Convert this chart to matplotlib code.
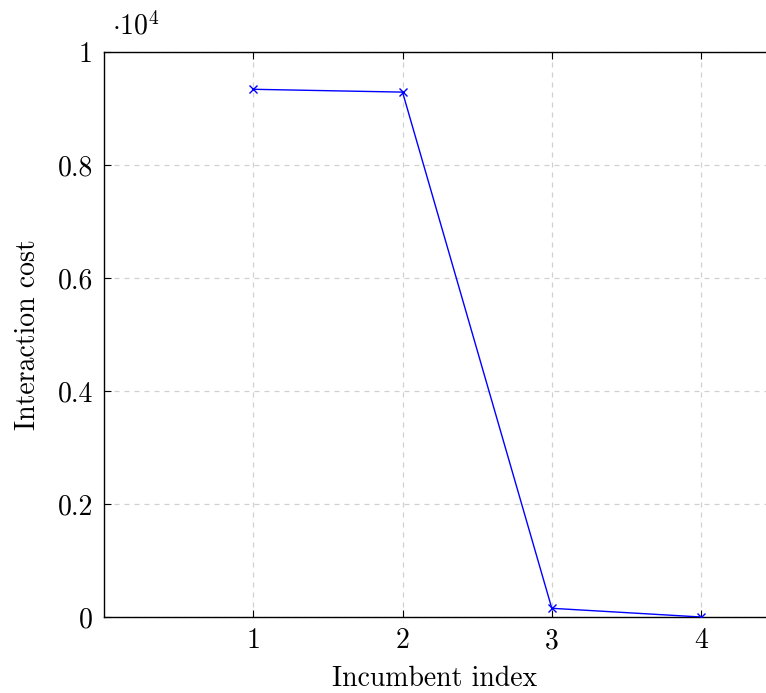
import matplotlib
matplotlib.use("Agg")
import matplotlib.pyplot as plt
from matplotlib.ticker import FuncFormatter, FixedLocator

incumbent = [1, 2, 3, 4]
cost = [9340, 9290, 154, 0]
xticks = [1, 2, 3, 4]
yticks = [0, 2000, 4000, 6000, 8000, 10000]

plt.rcParams['mathtext.fontset'] = 'cm'
plt.rcParams['font.family'] = 'cmr10'
plt.rcParams['axes.formatter.use_mathtext'] = True
fs = 20

fig = plt.figure(figsize=(7.66, 6.93), dpi=100)
ax = fig.add_axes([104/766, (693-617)/693, 662/766, 565/693])
ax.plot(incumbent, cost, color='blue', lw=1.0, marker='x', ms=6, mew=1.0, zorder=3)
ax.set_xlim(0, 4.435)
ax.set_ylim(0, 10000)
ax.xaxis.set_major_locator(FixedLocator(xticks))
ax.yaxis.set_major_locator(FixedLocator(yticks))
ax.yaxis.set_major_formatter(FuncFormatter(lambda v, p: '0' if v == 0 else ('1' if v == 10000 else f'{v/1e4:.1f}')))
ax.grid(True, color='#d0d0d0', ls=(0, (4, 4)), lw=0.9)
ax.spines['right'].set_visible(False)
for s in ['left', 'top', 'bottom']:
    ax.spines[s].set_linewidth(1.0)
ax.tick_params(direction='in', length=5, width=0.8, labelsize=fs, top=True, pad=8)
ax.set_xlabel('Incumbent index', fontsize=fs, labelpad=8)
ax.set_ylabel('Interaction cost', fontsize=fs, labelpad=12)
ax.text(0.012, 1.02, r'$\cdot 10^4$', transform=ax.transAxes, fontsize=fs, ha='left', va='bottom')
fig.savefig('out.png', dpi=100)
